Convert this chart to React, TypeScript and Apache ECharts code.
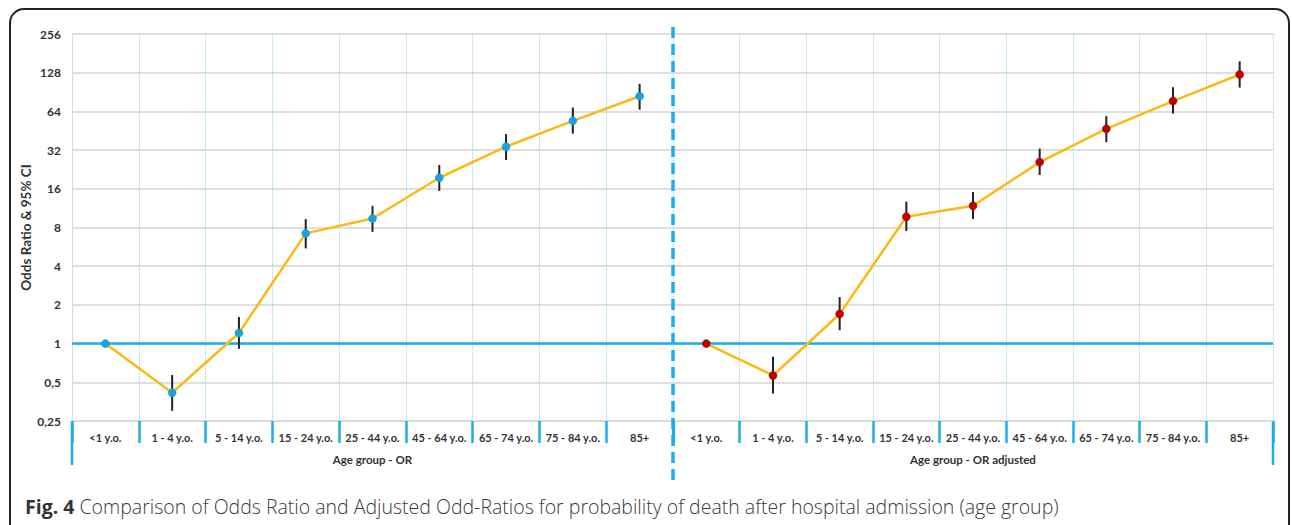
import React, { useEffect, useRef } from "react";
import * as echarts from "echarts";

const categories = [
  "<1 y.o.",
  "1 - 4 y.o.",
  "5 - 14 y.o.",
  "15 - 24 y.o.",
  "25 - 44 y.o.",
  "45 - 64 y.o.",
  "65 - 74 y.o.",
  "75 - 84 y.o.",
  "85+",
];

const orValues = [1, 0.415, 1.21, 7.2, 9.4, 19.5, 34, 54, 84];
const orLow = [null, 0.3, 0.91, 5.5, 7.4, 15.4, 26.8, 43, 66];
const orHigh = [null, 0.57, 1.61, 9.3, 11.8, 24.5, 42.6, 68.6, 105];

const adjValues = [1, 0.565, 1.7, 9.7, 11.8, 25.8, 46.8, 77, 124];
const adjLow = [null, 0.41, 1.27, 7.5, 9.3, 20.5, 36.9, 61.6, 98];
const adjHigh = [null, 0.79, 2.3, 12.7, 15.1, 32.9, 58.7, 98.6, 157];

const yMin = 0.25;
const yMax = 256;

const axisNames = ["Age group - OR", "Age group - OR adjusted"];
const yTitle = "Odds Ratio & 95% CI";
const captionBold = "Fig. 4";
const captionText =
  " Comparison of Odds Ratio and Adjusted Odd-Ratios for probability of death after hospital admission (age group)";

const BLUE = "#1aaeee";
const LINE = "#fdb913";
const LABEL_FONT = "Lato";

function errorSeries(low: (number | null)[], high: (number | null)[], idx: number) {
  const data = low
    .map((l, i) => (l == null || high[i] == null ? null : [i, l, high[i]]))
    .filter((d) => d != null);
  return {
    type: "custom",
    xAxisIndex: idx,
    yAxisIndex: idx,
    z: 2,
    silent: true,
    data,
    renderItem: (params: any, api: any) => {
      const x = api.value(0);
      const p1 = api.coord([x, api.value(1)]);
      const p2 = api.coord([x, api.value(2)]);
      return {
        type: "line",
        shape: { x1: p1[0], y1: p1[1], x2: p2[0], y2: p2[1] },
        style: { stroke: "#222", lineWidth: 2 },
      };
    },
  };
}

export default function App() {
  const ref = useRef<HTMLDivElement>(null);
  useEffect(() => {
    if (!ref.current) return;
    const chart = echarts.init(ref.current, null, { renderer: "svg" });
    const xAxisBase = (idx: number) => ({
      type: "category",
      gridIndex: idx,
      data: categories,
      boundaryGap: true,
      name: axisNames[idx],
      nameLocation: "middle",
      nameGap: 32,
      nameTextStyle: { fontFamily: LABEL_FONT, fontWeight: "bold", fontSize: 11.5, color: "#333" },
      axisLine: { show: true, lineStyle: { color: "#d9d9d9", width: 1.5 } },
      axisTick: { show: true, length: 22, interval: 0, lineStyle: { color: BLUE, width: 2.5 } },
      axisLabel: {
        interval: 0,
        margin: 11,
        fontFamily: LABEL_FONT,
        fontWeight: "bold",
        fontSize: 11,
        color: "#333",
      },
      splitLine: {
        show: true,
        interval: 0,
        lineStyle: { color: "#8fd6f3", type: "dotted", width: 1 },
      },
    });
    const yAxisBase = (idx: number) => ({
      type: "log",
      logBase: 2,
      gridIndex: idx,
      min: yMin,
      max: yMax,
      interval: 1,
      name: idx === 0 ? yTitle : "",
      nameLocation: "middle",
      nameGap: 38,
      nameTextStyle: { fontFamily: LABEL_FONT, fontWeight: "bold", fontSize: 13.5, color: "#333" },
      axisLine: { show: idx === 0, lineStyle: { color: "#d9d9d9", width: 1 } },
      axisTick: { show: false },
      axisLabel: {
        show: idx === 0,
        margin: 11,
        fontFamily: LABEL_FONT,
        fontWeight: "bold",
        fontSize: 12,
        color: "#333",
        formatter: (v: number) => String(v).replace(".", ","),
      },
      splitLine: { show: true, lineStyle: { color: "#d4d4d4", width: 1.5 } },
    });
    const lineSeries = (vals: number[], idx: number, color: string, border: string) => ({
      type: "line",
      xAxisIndex: idx,
      yAxisIndex: idx,
      data: vals,
      z: 3,
      symbol: "circle",
      symbolSize: 8,
      itemStyle: { color, borderColor: border, borderWidth: 0.5 },
      lineStyle: { color: LINE, width: 2.5 },
      markLine: {
        silent: true,
        symbol: "none",
        label: { show: false },
        lineStyle: { color: BLUE, width: 2.5, type: "solid" },
        data: [{ yAxis: 1 }],
        z: 1,
      },
    });
    chart.setOption({
      animation: false,
      backgroundColor: "#fff",
      grid: [
        { left: 72, top: 34, width: 601, height: 387 },
        { left: 673, top: 34, width: 600, height: 387 },
      ],
      xAxis: [xAxisBase(0), xAxisBase(1)],
      yAxis: [yAxisBase(0), yAxisBase(1)],
      series: [
        errorSeries(orLow, orHigh, 0),
        errorSeries(adjLow, adjHigh, 1),
        lineSeries(orValues, 0, "#19a2dc", "#1590c8"),
        lineSeries(adjValues, 1, "#c00000", "#8a0000"),
      ],
      graphic: [
        {
          type: "rect",
          shape: { x: 10, y: 9, width: 1279, height: 540, r: 14 },
          style: { fill: "none", stroke: "#222", lineWidth: 2 },
          silent: true,
        },
        {
          type: "line",
          shape: { x1: 673, y1: 27, x2: 673, y2: 480 },
          style: { stroke: BLUE, lineWidth: 3.5, lineDash: [11, 6] },
          z: 10,
          silent: true,
        },
        {
          type: "line",
          shape: { x1: 72, y1: 421, x2: 72, y2: 465 },
          style: { stroke: BLUE, lineWidth: 2.5 },
          silent: true,
        },
        {
          type: "line",
          shape: { x1: 1273, y1: 421, x2: 1273, y2: 465 },
          style: { stroke: BLUE, lineWidth: 2.5 },
          silent: true,
        },
        {
          type: "text",
          x: 25,
          y: 506,
          style: {
            text: "{b|" + captionBold + "}{r|" + captionText + "}",
            verticalAlign: "middle",
            rich: {
              b: { fontFamily: "Open Sans", fontWeight: "bold", fontSize: 19.5, fill: "#333", color: "#333" },
              r: { fontFamily: "Open Sans", fontWeight: 300, fontSize: 19.5, fill: "#3a3a3a", color: "#3a3a3a" },
            },
          },
          silent: true,
        },
      ],
    });
    return () => chart.dispose();
  }, []);
  return (
    <div
      ref={ref}
      style={{ position: "fixed", left: 0, top: 0, width: 1292, height: 525 }}
    />
  );
}
